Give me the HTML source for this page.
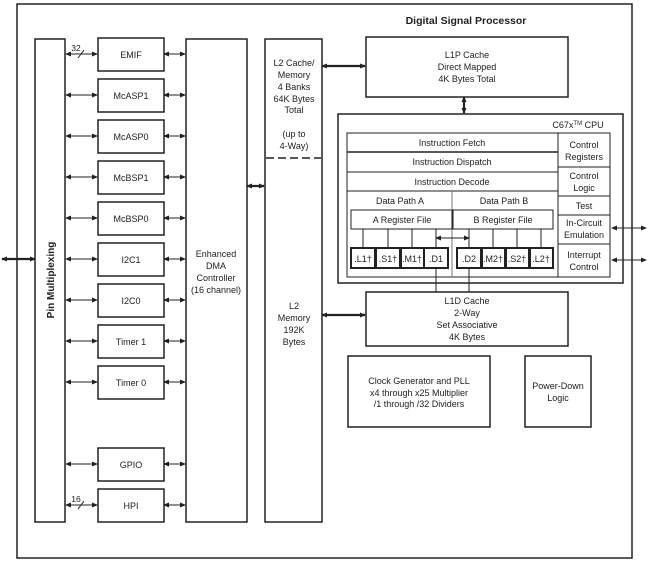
<!DOCTYPE html>
<html><head><meta charset="utf-8"><style>
html,body{margin:0;padding:0;background:#fff;}
svg{display:block;}
text{font-family:"Liberation Sans",sans-serif;font-size:9px;fill:#222;text-anchor:middle;}
.b{fill:none;stroke:#222;stroke-width:1.5;}
.t{fill:none;stroke:#222;stroke-width:1;}
.k{fill:none;stroke:#222;stroke-width:2.2;}
</style></head><body>
<svg width="655" height="563" viewBox="0 0 655 563" xmlns="http://www.w3.org/2000/svg">
<defs>
<marker id="a" markerWidth="6" markerHeight="6" refX="5" refY="3" orient="auto-start-reverse" markerUnits="userSpaceOnUse"><path d="M0,0.5 L6,3 L0,5.5 z" fill="#222"/></marker>
</defs>
<rect x="17" y="4" width="615" height="554" class="b"/>
<text x="466" y="24" style="font-size:10.5px;font-weight:bold">Digital Signal Processor</text>
<!-- Pin mux -->
<rect x="35" y="39" width="30" height="483" class="b"/>
<text transform="translate(54,280) rotate(-90)" style="font-weight:bold;font-size:10px">Pin Multiplexing</text>
<line x1="2" y1="259" x2="35" y2="259" class="k" marker-start="url(#a)" marker-end="url(#a)"/>
<!-- peripherals -->
<g>
<rect x="98" y="38" width="66" height="33" class="b"/><text x="131" y="58">EMIF</text>
<rect x="98" y="79" width="66" height="33" class="b"/><text x="131" y="99">McASP1</text>
<rect x="98" y="120" width="66" height="33" class="b"/><text x="131" y="140">McASP0</text>
<rect x="98" y="161" width="66" height="33" class="b"/><text x="131" y="181">McBSP1</text>
<rect x="98" y="202" width="66" height="33" class="b"/><text x="131" y="222">McBSP0</text>
<rect x="98" y="243" width="66" height="33" class="b"/><text x="131" y="263">I2C1</text>
<rect x="98" y="284" width="66" height="33" class="b"/><text x="131" y="304">I2C0</text>
<rect x="98" y="325" width="66" height="33" class="b"/><text x="131" y="345">Timer 1</text>
<rect x="98" y="366" width="66" height="33" class="b"/><text x="131" y="386">Timer 0</text>
<rect x="98" y="448" width="66" height="33" class="b"/><text x="131" y="468">GPIO</text>
<rect x="98" y="489" width="66" height="33" class="b"/><text x="131" y="509">HPI</text>
</g>
<g class="t" marker-start="url(#a)" marker-end="url(#a)">
<line x1="66" y1="54" x2="97" y2="54" marker-start="url(#a)" marker-end="url(#a)"/>
<line x1="66" y1="95" x2="97" y2="95" marker-start="url(#a)" marker-end="url(#a)"/>
<line x1="66" y1="136" x2="97" y2="136" marker-start="url(#a)" marker-end="url(#a)"/>
<line x1="66" y1="177" x2="97" y2="177" marker-start="url(#a)" marker-end="url(#a)"/>
<line x1="66" y1="218" x2="97" y2="218" marker-start="url(#a)" marker-end="url(#a)"/>
<line x1="66" y1="259" x2="97" y2="259" marker-start="url(#a)" marker-end="url(#a)"/>
<line x1="66" y1="300" x2="97" y2="300" marker-start="url(#a)" marker-end="url(#a)"/>
<line x1="66" y1="341" x2="97" y2="341" marker-start="url(#a)" marker-end="url(#a)"/>
<line x1="66" y1="382" x2="97" y2="382" marker-start="url(#a)" marker-end="url(#a)"/>
<line x1="66" y1="464" x2="97" y2="464" marker-start="url(#a)" marker-end="url(#a)"/>
<line x1="66" y1="505" x2="97" y2="505" marker-start="url(#a)" marker-end="url(#a)"/>
</g>
<g class="t">
<line x1="164" y1="54" x2="185" y2="54" marker-start="url(#a)" marker-end="url(#a)"/>
<line x1="164" y1="95" x2="185" y2="95" marker-start="url(#a)" marker-end="url(#a)"/>
<line x1="164" y1="136" x2="185" y2="136" marker-start="url(#a)" marker-end="url(#a)"/>
<line x1="164" y1="177" x2="185" y2="177" marker-start="url(#a)" marker-end="url(#a)"/>
<line x1="164" y1="218" x2="185" y2="218" marker-start="url(#a)" marker-end="url(#a)"/>
<line x1="164" y1="259" x2="185" y2="259" marker-start="url(#a)" marker-end="url(#a)"/>
<line x1="164" y1="300" x2="185" y2="300" marker-start="url(#a)" marker-end="url(#a)"/>
<line x1="164" y1="341" x2="185" y2="341" marker-start="url(#a)" marker-end="url(#a)"/>
<line x1="164" y1="382" x2="185" y2="382" marker-start="url(#a)" marker-end="url(#a)"/>
<line x1="164" y1="464" x2="185" y2="464" marker-start="url(#a)" marker-end="url(#a)"/>
<line x1="164" y1="505" x2="185" y2="505" marker-start="url(#a)" marker-end="url(#a)"/>
</g>
<text x="76" y="51" style="font-size:8.5px">32</text>
<line x1="78" y1="58" x2="84" y2="50" class="t"/>
<text x="76" y="502" style="font-size:8.5px">16</text>
<line x1="78" y1="509" x2="84" y2="501" class="t"/>
<!-- DMA -->
<rect x="186" y="39" width="61" height="483" class="b"/>
<text x="216" y="257">Enhanced</text>
<text x="216" y="269">DMA</text>
<text x="216" y="281">Controller</text>
<text x="216" y="293">(16 channel)</text>
<line x1="247" y1="186" x2="264" y2="186" class="k" marker-start="url(#a)" marker-end="url(#a)"/>
<!-- L2 -->
<rect x="265" y="39" width="57" height="483" class="b"/>
<line x1="266" y1="158" x2="321" y2="158" stroke="#222" stroke-width="1.5" stroke-dasharray="8,4"/>
<text x="294" y="66">L2 Cache/</text>
<text x="294" y="78">Memory</text>
<text x="294" y="90">4 Banks</text>
<text x="294" y="102">64K Bytes</text>
<text x="294" y="113">Total</text>
<text x="294" y="137">(up to</text>
<text x="294" y="149">4-Way)</text>
<text x="294" y="309">L2</text>
<text x="294" y="321">Memory</text>
<text x="294" y="333">192K</text>
<text x="294" y="345">Bytes</text>
<line x1="322" y1="66" x2="365" y2="66" class="k" marker-start="url(#a)" marker-end="url(#a)"/>
<line x1="322" y1="315" x2="365" y2="315" class="k" marker-start="url(#a)" marker-end="url(#a)"/>
<!-- L1P -->
<rect x="366" y="37" width="202" height="60" class="b"/>
<text x="467" y="58">L1P Cache</text>
<text x="467" y="70">Direct Mapped</text>
<text x="467" y="82">4K Bytes Total</text>
<line x1="464" y1="97" x2="464" y2="113" class="k" marker-start="url(#a)" marker-end="url(#a)"/>
<!-- CPU -->
<rect x="338" y="114" width="285" height="169" class="b"/>
<text x="578" y="128">C67x<tspan style="font-size:6px" dy="-3">TM</tspan><tspan dy="3"> CPU</tspan></text>
<rect x="347" y="133" width="211" height="144" class="t"/>
<line x1="347" y1="152" x2="558" y2="152" class="b"/>
<line x1="347" y1="172" x2="558" y2="172" class="t"/>
<line x1="347" y1="191" x2="558" y2="191" class="t"/>
<text x="452" y="146">Instruction Fetch</text>
<text x="452" y="165">Instruction Dispatch</text>
<text x="452" y="185">Instruction Decode</text>
<line x1="452" y1="191" x2="452" y2="277" stroke="#777" stroke-width="1"/>
<text x="400" y="204">Data Path A</text>
<text x="504" y="204">Data Path B</text>
<rect x="351" y="210" width="101" height="19" class="t"/>
<rect x="453" y="210" width="100" height="19" class="t"/>
<text x="402" y="223">A Register File</text>
<text x="503" y="223">B Register File</text>
<g class="t">
<line x1="363" y1="229" x2="363" y2="248"/><line x1="388" y1="229" x2="388" y2="248"/>
<line x1="412" y1="229" x2="412" y2="248"/><line x1="436" y1="229" x2="436" y2="248"/>
<line x1="469" y1="229" x2="469" y2="248"/><line x1="493" y1="229" x2="493" y2="248"/>
<line x1="517" y1="229" x2="517" y2="248"/><line x1="541" y1="229" x2="541" y2="248"/>
</g>
<line x1="436" y1="238" x2="469" y2="238" class="t" marker-start="url(#a)" marker-end="url(#a)"/>
<g class="k" style="stroke-width:2">
<rect x="351" y="248" width="24" height="20"/><rect x="376" y="248" width="24" height="20"/>
<rect x="401" y="248" width="23" height="20"/><rect x="424" y="248" width="24" height="20"/>
<rect x="457" y="248" width="24" height="20"/><rect x="482" y="248" width="23" height="20"/>
<rect x="506" y="248" width="23" height="20"/><rect x="530" y="248" width="23" height="20"/>
</g>
<g style="font-size:9px">
<text x="363" y="262">.L1†</text><text x="388" y="262">.S1†</text><text x="412" y="262">.M1†</text><text x="436" y="262">.D1</text>
<text x="469" y="262">.D2</text><text x="493" y="262">.M2†</text><text x="517" y="262">.S2†</text><text x="541" y="262">.L2†</text>
</g>
<line x1="436" y1="268" x2="436" y2="292" class="t"/>
<line x1="469" y1="268" x2="469" y2="292" class="t"/>
<!-- right column -->
<rect x="558" y="133" width="52" height="144" class="t"/>
<g class="t"><line x1="558" y1="167" x2="610" y2="167"/><line x1="558" y1="196" x2="610" y2="196"/>
<line x1="558" y1="215" x2="610" y2="215"/><line x1="558" y1="244" x2="610" y2="244"/></g>
<text x="584" y="148">Control</text><text x="584" y="160">Registers</text>
<text x="584" y="179">Control</text><text x="584" y="191">Logic</text>
<text x="584" y="209">Test</text>
<text x="584" y="226">In-Circuit</text><text x="584" y="238">Emulation</text>
<text x="584" y="258">Interrupt</text><text x="584" y="270">Control</text>
<line x1="612" y1="228" x2="646" y2="228" class="t" marker-start="url(#a)" marker-end="url(#a)"/>
<line x1="612" y1="260" x2="646" y2="260" class="t" marker-start="url(#a)" marker-end="url(#a)"/>
<!-- L1D -->
<rect x="366" y="292" width="202" height="54" class="b"/>
<text x="467" y="304">L1D Cache</text>
<text x="467" y="316">2-Way</text>
<text x="467" y="328">Set Associative</text>
<text x="467" y="340">4K Bytes</text>
<!-- Clock -->
<rect x="348" y="356" width="142" height="71" class="b"/>
<text x="419" y="384">Clock Generator and PLL</text>
<text x="419" y="396">x4 through x25 Multiplier</text>
<text x="419" y="407">/1 through /32 Dividers</text>
<rect x="525" y="356" width="66" height="71" class="b"/>
<text x="558" y="389">Power-Down</text>
<text x="558" y="401">Logic</text>
</svg>
</body></html>
